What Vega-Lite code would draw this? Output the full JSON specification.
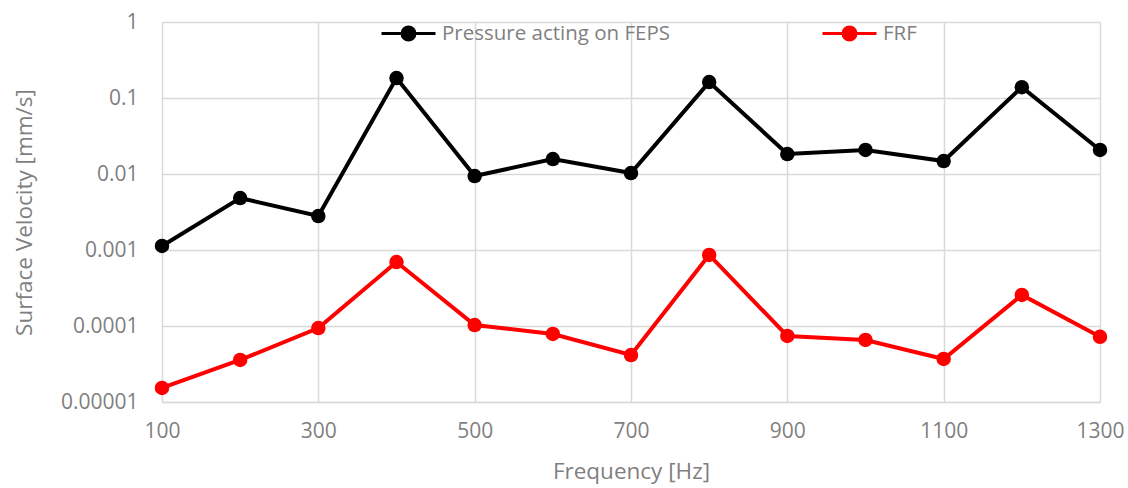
{
  "$schema": "https://vega.github.io/schema/vega-lite/v6.json",
  "width": 938,
  "height": 380,
  "autosize": "none",
  "padding": {"left": 162, "top": 22, "right": 28, "bottom": 86},
  "background": "white",
  "config": {
    "view": {"stroke": null},
    "font": "Open Sans",
    "axis": {
      "labelFont": "Open Sans",
      "titleFont": "Open Sans",
      "labelColor": "#7f7f7f",
      "titleColor": "#7f7f7f",
      "labelFontSize": 21,
      "titleFontSize": 22.5,
      "titleFontWeight": "normal",
      "gridColor": "#d9d9d9",
      "gridWidth": 1.5,
      "domainColor": "#d9d9d9",
      "domainWidth": 1.5,
      "ticks": false,
      "tickSize": 0
    }
  },
  "data": {
    "values": [
      {"f": 100, "v": 0.00113, "s": "Pressure acting on FEPS"},
      {"f": 200, "v": 0.00483, "s": "Pressure acting on FEPS"},
      {"f": 300, "v": 0.0028, "s": "Pressure acting on FEPS"},
      {"f": 400, "v": 0.183, "s": "Pressure acting on FEPS"},
      {"f": 500, "v": 0.0094, "s": "Pressure acting on FEPS"},
      {"f": 600, "v": 0.0157, "s": "Pressure acting on FEPS"},
      {"f": 700, "v": 0.0103, "s": "Pressure acting on FEPS"},
      {"f": 800, "v": 0.162, "s": "Pressure acting on FEPS"},
      {"f": 900, "v": 0.0183, "s": "Pressure acting on FEPS"},
      {"f": 1000, "v": 0.0207, "s": "Pressure acting on FEPS"},
      {"f": 1100, "v": 0.0148, "s": "Pressure acting on FEPS"},
      {"f": 1200, "v": 0.139, "s": "Pressure acting on FEPS"},
      {"f": 1300, "v": 0.0207, "s": "Pressure acting on FEPS"},
      {"f": 100, "v": 0.0000153, "s": "FRF"},
      {"f": 200, "v": 0.0000357, "s": "FRF"},
      {"f": 300, "v": 0.000094, "s": "FRF"},
      {"f": 400, "v": 0.000695, "s": "FRF"},
      {"f": 500, "v": 0.000103, "s": "FRF"},
      {"f": 600, "v": 0.0000785, "s": "FRF"},
      {"f": 700, "v": 0.0000415, "s": "FRF"},
      {"f": 800, "v": 0.00086, "s": "FRF"},
      {"f": 900, "v": 0.000074, "s": "FRF"},
      {"f": 1000, "v": 0.0000655, "s": "FRF"},
      {"f": 1100, "v": 0.0000368, "s": "FRF"},
      {"f": 1200, "v": 0.000256, "s": "FRF"},
      {"f": 1300, "v": 0.000072, "s": "FRF"}
    ]
  },
  "mark": {"type": "line", "strokeWidth": 4, "point": {"filled": true, "size": 210, "opacity": 1}},
  "encoding": {
    "x": {
      "field": "f",
      "type": "quantitative",
      "scale": {"domain": [100, 1300], "nice": false, "zero": false},
      "axis": {
        "title": "Frequency [Hz]",
        "values": [100, 300, 500, 700, 900, 1100, 1300],
        "format": "d",
        "labelPadding": 18,
        "titlePadding": 19,
        "labelFlush": false
      }
    },
    "y": {
      "field": "v",
      "type": "quantitative",
      "scale": {"type": "log", "domain": [0.00001, 1], "nice": false},
      "axis": {
        "title": "Surface Velocity [mm/s]",
        "values": [0.00001, 0.0001, 0.001, 0.01, 0.1, 1],
        "format": ".5~f",
        "labelPadding": 24,
        "titlePadding": 24,
        "domain": false
      }
    },
    "color": {
      "field": "s",
      "type": "nominal",
      "scale": {"domain": ["Pressure acting on FEPS", "FRF"], "range": ["#000000", "#ff0000"]},
      "legend": {
        "title": null,
        "orient": "none",
        "direction": "horizontal",
        "columns": 2,
        "legendX": 218,
        "legendY": -17,
        "padding": 0,
        "symbolType": "M-1,0H1M-0.24,0A0.24,0.24 0 1 0 0.24,0A0.24,0.24 0 1 0 -0.24,0Z",
        "symbolSize": 2916,
        "symbolStrokeWidth": 3,
        "labelFont": "Open Sans",
        "labelFontSize": 20.5,
        "labelColor": "#7f7f7f",
        "labelOffset": 5,
        "labelLimit": 500,
        "columnPadding": 145,
        "encode": {
          "symbols": {
            "update": {
              "fill": {"signal": "scale('color', datum.value)"},
              "stroke": {"signal": "scale('color', datum.value)"},
              "opacity": {"value": 1}
            }
          }
        }
      }
    }
  }
}
